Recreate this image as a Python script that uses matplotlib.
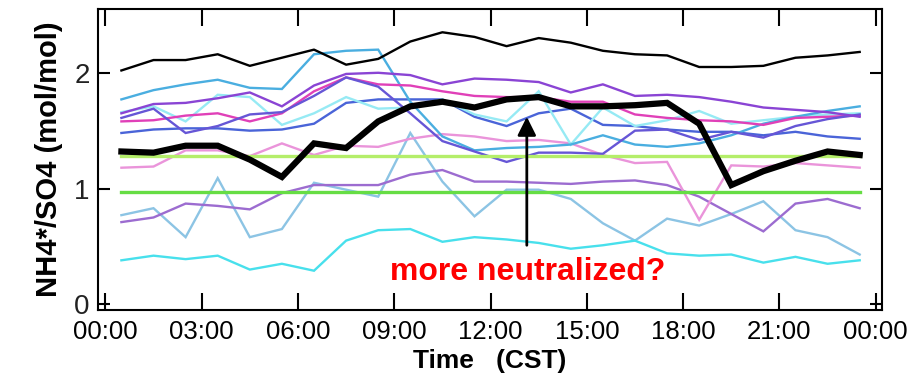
import matplotlib
matplotlib.use("Agg")
import matplotlib.pyplot as plt

# hour of day (bin centres)
hours = [0.5, 1.5, 2.5, 3.5, 4.5, 5.5, 6.5, 7.5, 8.5, 9.5, 10.5, 11.5,
         12.5, 13.5, 14.5, 15.5, 16.5, 17.5, 18.5, 19.5, 20.5, 21.5, 22.5, 23.5]

# NH4*/SO4 diurnal profiles, one per day/site
top_black = [2.02, 2.11, 2.11, 2.16, 2.06, 2.13, 2.20, 2.07, 2.12, 2.27, 2.35, 2.31,
             2.23, 2.30, 2.26, 2.19, 2.16, 2.15, 2.05, 2.05, 2.06, 2.13, 2.15, 2.18]
mean_ratio = [1.32, 1.31, 1.37, 1.37, 1.25, 1.10, 1.39, 1.35, 1.58, 1.71, 1.75, 1.70,
              1.77, 1.79, 1.71, 1.71, 1.72, 1.74, 1.56, 1.03, 1.15, 1.24, 1.32, 1.29]
sky = [1.77, 1.85, 1.90, 1.94, 1.87, 1.86, 2.16, 2.19, 2.20, 1.75, 1.45, 1.33,
       1.35, 1.36, 1.38, 1.46, 1.38, 1.36, 1.39, 1.46, 1.56, 1.62, 1.67, 1.71]
violet = [1.65, 1.73, 1.74, 1.78, 1.83, 1.71, 1.89, 1.99, 2.00, 1.98, 1.90, 1.95,
          1.94, 1.92, 1.83, 1.90, 1.80, 1.81, 1.79, 1.75, 1.70, 1.68, 1.66, 1.62]
blueviolet = [1.61, 1.69, 1.48, 1.54, 1.64, 1.66, 1.80, 1.96, 1.88, 1.65, 1.41, 1.32,
              1.23, 1.31, 1.31, 1.30, 1.50, 1.51, 1.42, 1.49, 1.44, 1.54, 1.60, 1.64]
magenta = [1.58, 1.59, 1.63, 1.65, 1.58, 1.65, 1.84, 1.96, 1.90, 1.89, 1.84, 1.80,
           1.79, 1.79, 1.75, 1.75, 1.64, 1.61, 1.59, 1.58, 1.55, 1.61, 1.62, 1.63]
lightcyan = [1.66, 1.71, 1.58, 1.81, 1.79, 1.55, 1.65, 1.79, 1.69, 1.70, 1.77, 1.64,
             1.58, 1.84, 1.38, 1.70, 1.54, 1.59, 1.67, 1.56, 1.59, 1.62, 1.64, 1.65]
royal = [1.48, 1.51, 1.52, 1.52, 1.50, 1.51, 1.56, 1.74, 1.77, 1.77, 1.77, 1.62,
         1.54, 1.65, 1.69, 1.55, 1.54, 1.51, 1.49, 1.49, 1.46, 1.49, 1.45, 1.43]
pink = [1.18, 1.19, 1.33, 1.33, 1.28, 1.39, 1.29, 1.37, 1.36, 1.43, 1.47, 1.45,
        1.41, 1.42, 1.39, 1.29, 1.22, 1.23, 0.73, 1.20, 1.19, 1.22, 1.20, 1.18]
steel = [0.77, 0.83, 0.58, 1.09, 0.58, 0.65, 1.05, 0.99, 0.93, 1.48, 1.06, 0.76,
         0.99, 0.99, 0.91, 0.70, 0.55, 0.74, 0.68, 0.78, 0.89, 0.64, 0.58, 0.43]
purple = [0.71, 0.75, 0.87, 0.85, 0.82, 0.96, 1.03, 1.03, 1.03, 1.12, 1.16, 1.06,
          1.06, 1.05, 1.04, 1.06, 1.07, 1.03, 0.93, 0.78, 0.63, 0.87, 0.91, 0.83]
cyan = [0.38, 0.42, 0.39, 0.42, 0.30, 0.35, 0.29, 0.55, 0.64, 0.65, 0.54, 0.58,
        0.56, 0.53, 0.48, 0.51, 0.55, 0.44, 0.42, 0.43, 0.36, 0.41, 0.35, 0.38]

ref_upper = 1.28
ref_lower = 0.97

xticks = [0, 3, 6, 9, 12, 15, 18, 21, 24]
xticklabels = ["00:00", "03:00", "06:00", "09:00", "12:00", "15:00", "18:00", "21:00", "00:00"]

narrow = ["Liberation Sans Narrow", "Liberation Sans"]
sans = ["Liberation Sans", "DejaVu Sans"]

fig = plt.figure(figsize=(9.2, 3.8), dpi=100)
ax = fig.add_axes([0.1065, 0.184, 0.852, 0.792])

thin = [
    (steel, "#8cc4e4"),
    (cyan, "#48e0ec"),
    (purple, "#9c6cd0"),
    (pink, "#ea94da"),
    (royal, "#4a64d8"),
    (lightcyan, "#96eaf4"),
    (sky, "#4aaee0"),
    (magenta, "#e040b8"),
    (blueviolet, "#6656d6"),
    (violet, "#8a44d4"),
]
for vals, col in thin:
    ax.plot(hours, vals, color=col, lw=1.7, solid_joinstyle="miter")

ax.plot([hours[0], hours[-1]], [ref_upper, ref_upper], color="#b4ee6a", lw=2.4)
ax.plot([hours[0], hours[-1]], [ref_lower, ref_lower], color="#66dd44", lw=2.4)

ax.plot(hours, top_black, color="black", lw=1.7)
ax.plot(hours, mean_ratio, color="black", lw=4.5, solid_joinstyle="miter")

ax.annotate("", xy=(13.13, 1.62), xytext=(13.13, 0.51),
            arrowprops=dict(arrowstyle="-|>", color="black", lw=2,
                            mutation_scale=28, shrinkA=0, shrinkB=0))
ax.text(8.86, 0.21, "more neutralized?", color="#ff0000", fontsize=23,
        fontweight="bold", family=sans, ha="left", va="baseline")

ax.set_xlim(-0.23, 24.19)
ax.set_ylim(-0.05, 2.55)
ax.set_xticks(xticks)
ax.set_xticklabels(xticklabels, family=narrow, fontsize=18.5)
ax.set_yticks([0, 1, 2])
ax.set_yticklabels(["0", "1", "2"], family=sans, fontsize=20, color="#222222")
ax.tick_params(axis="x", direction="in", length=12, width=1.5, top=True, pad=7)
ax.tick_params(axis="y", direction="in", length=8.5, width=1.5, right=True, pad=6)
for s in ax.spines.values():
    s.set_linewidth(1.5)

ax.set_xlabel("Time   (CST)", family=narrow, fontweight="bold", fontsize=19, labelpad=4)
ax.set_ylabel("NH4*/SO4 (mol/mol)", family=sans, fontweight="bold", fontsize=21, labelpad=8)

fig.savefig("out.png", dpi=100)
